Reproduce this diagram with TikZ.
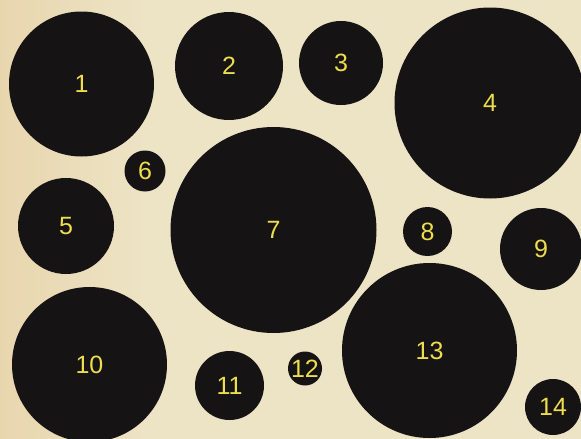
\documentclass[tikz,border=0pt]{standalone}
\usepackage{fontspec}
\setmainfont{Liberation Sans}
\definecolor{paper}{HTML}{EDE4C6}
\definecolor{paperL}{HTML}{E8D6AE}
\definecolor{ink}{HTML}{151313}
\definecolor{digit}{HTML}{EEDD4C}
\begin{document}
\begin{tikzpicture}[x=1pt,y=-1pt,
  disc/.style={circle,fill=ink,draw=none,inner sep=0pt,text=digit,font=\fontsize{25}{25}\selectfont}]
\useasboundingbox (0,0) rectangle (581,439);
\fill[paper] (0,0) rectangle (581,439);
\shade[left color=paperL,right color=paper] (0,0) rectangle (150,439);
\node[disc,minimum size=145pt] (c1) at (81.5,84) {1};
\node[disc,minimum size=108pt] (c2) at (229,66) {2};
\node[disc,minimum size=84pt] (c3) at (341,63) {3};
\node[disc,minimum size=191pt] (c4) at (490,103) {4};
\node[disc,minimum size=96pt] (c5) at (66,226) {5};
\node[disc,minimum size=41pt] (c6) at (145,171) {6};
\node[disc,minimum size=206pt] (c7) at (273.5,230) {7};
\node[disc,minimum size=49pt] (c8) at (427.5,231.5) {8};
\node[disc,minimum size=82pt] (c9) at (541,249) {9};
\node[disc,minimum size=155pt] (c10) at (89.5,364.5) {10};
\node[disc,minimum size=69pt] (c11) at (229.5,385.5) {11};
\node[disc,minimum size=34pt] (c12) at (305,368.5) {12};
\node[disc,minimum size=175pt] (c13) at (429.5,350.5) {13};
\node[disc,minimum size=56pt] (c14) at (553,407) {14};
\end{tikzpicture}
\end{document}
